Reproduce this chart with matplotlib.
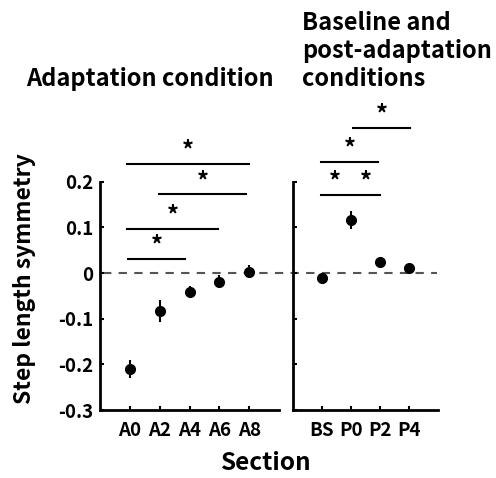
import numpy as np
import matplotlib.pyplot as plt
from matplotlib.lines import Line2D
import matplotlib.transforms as mtransforms

plt.rcParams['font.family'] = ['Noto Sans CJK JP', 'DejaVu Sans']
plt.rcParams['font.weight'] = 'bold'
plt.rcParams['axes.labelweight'] = 'bold'

# adaptation sections
adapt_labels = ["A0", "A2", "A4", "A6", "A8"]
adapt_mean = [-0.211, -0.083, -0.042, -0.019, 0.003]
adapt_err = [0.020, 0.025, 0.013, 0.014, 0.015]

# baseline / post-adaptation sections
post_labels = ["BS", "P0", "P2", "P4"]
post_mean = [-0.012, 0.116, 0.024, 0.011]
post_err = [0.005, 0.020, 0.010, 0.009]

# significance bars: (x start, x end, y level)
adapt_sig = [(-0.05, 1.85, 0.030), (-0.1, 2.95, 0.097),
             (0.99, 3.9, 0.172), (-0.1, 3.98, 0.239)]
post_sig = [(-0.04, 0.92, 0.171), (1.01, 2.0, 0.171),
            (-0.03, 1.92, 0.243), (1.07, 3.03, 0.317)]

fig = plt.figure(figsize=(4.96, 4.78), dpi=100)
ax1 = fig.add_axes([100/496, 1-410/478, 179/496, 228.3/478])
ax2 = fig.add_axes([293/496, 1-410/478, 145/496, 228.3/478])


def style(ax, n):
    ax.set_ylim(-0.3, 0.2)
    ax.set_xlim(-1, n)
    ax.patch.set_visible(False)
    for s in ['top', 'right']:
        ax.spines[s].set_visible(False)
    for s in ['left', 'bottom']:
        ax.spines[s].set_linewidth(2)
    ax.tick_params(direction='in', length=3, width=1.5, labelsize=13.5, pad=5)
    ax.tick_params(axis='x', pad=8)
    ax.set_yticks([-0.3, -0.2, -0.1, 0, 0.1, 0.2])


def sig(ax, bars):
    for x0, x1, y in bars:
        ax.plot([x0, x1], [y, y], color='black', lw=1.5, clip_on=False)
        ax.annotate("*", xy=((x0 + x1) / 2, y), xytext=(0, 1),
                    textcoords='offset points', ha='center', va='bottom',
                    fontsize=17, annotation_clip=False)


style(ax1, 5)
ax1.errorbar(range(len(adapt_labels)), adapt_mean, yerr=adapt_err, fmt='o',
             color='black', ms=7, elinewidth=1.5, capsize=0, clip_on=False)
ax1.set_xticks(range(len(adapt_labels)))
ax1.set_xticklabels(adapt_labels)
ax1.set_yticklabels(["-0.3", "-0.2", "-0.1", "0", "0.1", "0.2"])
sig(ax1, adapt_sig)

style(ax2, 4)
ax2.errorbar(range(len(post_labels)), post_mean, yerr=post_err, fmt='o',
             color='black', ms=7, elinewidth=1.5, capsize=0, clip_on=False)
ax2.set_xticks(range(len(post_labels)))
ax2.set_xticklabels(post_labels)
ax2.set_yticklabels([])
sig(ax2, post_sig)

# zero reference line across both panels
tr = mtransforms.blended_transform_factory(fig.transFigure, ax1.transData)
fig.add_artist(Line2D([103/496, 437/496], [0, 0], transform=tr,
                      color='#555555', lw=1.5, ls=(0, (4, 3.5)), zorder=-1))

fig.text(25/496, 1-279/478, "Step length symmetry", fontsize=16.5,
         rotation=90, ha='center', va='center')
fig.text(26/496, 1-86/478, "Adaptation condition", fontsize=17,
         ha='left', va='baseline')
fig.text(302/496, 1-86/478, "Baseline and\npost-adaptation\nconditions",
         fontsize=17, ha='left', va='baseline', linespacing=1.2)
fig.text(266/496, 1-470/478, "Section", fontsize=17.5, ha='center',
         va='baseline')

fig.savefig("out.png", dpi=100)
